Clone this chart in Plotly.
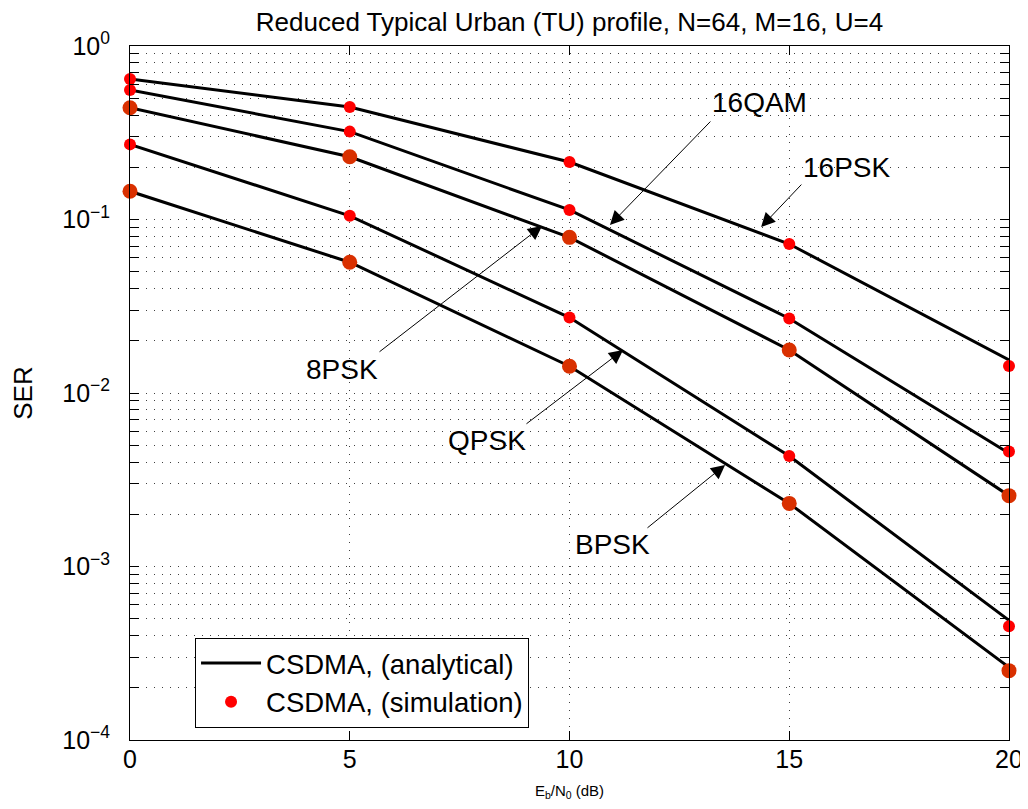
import plotly.graph_objects as go

# ---- data ----
ebn0 = [0, 5, 10, 15, 20]
series_names = ["16PSK", "16QAM", "8PSK", "QPSK", "BPSK"]

ana_16psk = [0.645, 0.445, 0.2145, 0.0722, 0.0155]
ana_16qam = [0.558, 0.321, 0.1135, 0.0269, 0.0045]
ana_8psk = [0.441, 0.230, 0.0789, 0.0177, 0.00256]
ana_qpsk = [0.271, 0.105, 0.0272, 0.00433, 0.00049]
ana_bpsk = [0.1454, 0.0567, 0.01426, 0.00231, 0.000262]

sim_16psk = [0.645, 0.445, 0.2145, 0.0722, 0.0143]
sim_16qam = [0.558, 0.321, 0.1135, 0.0269, 0.0046]
sim_8psk = [0.441, 0.230, 0.0789, 0.0177, 0.00256]
sim_qpsk = [0.271, 0.105, 0.0272, 0.00433, 0.000452]
sim_bpsk = [0.1454, 0.0567, 0.01426, 0.00231, 0.000251]

analytical = [ana_16psk, ana_16qam, ana_8psk, ana_qpsk, ana_bpsk]
simulation = [sim_16psk, sim_16qam, sim_8psk, sim_qpsk, sim_bpsk]
big_marker = [False, False, True, False, True]

x_ticks = [0, 5, 10, 15, 20]
y_ticks = [1, 0.1, 0.01, 0.001, 0.0001]
y_ticktext = ["10<sup>0</sup>", "10<sup>−1</sup>", "10<sup>−2</sup>", "10<sup>−3</sup>", "10<sup>−4</sup>"]
y_minor = [k * 10.0 ** e for e in range(-4, 0) for k in range(2, 10)]

FONT = "Liberation Sans, Arial, Helvetica, sans-serif"
GRID = "rgba(0,0,0,0.75)"
DASH = "1px,7px"

fig = go.Figure()

for i, (name, vals) in enumerate(zip(series_names, analytical)):
    fig.add_trace(go.Scatter(
        x=ebn0, y=vals, mode="lines",
        line=dict(color="black", width=3),
        name="CSDMA, (analytical)", legendgroup="ana",
        showlegend=(i == 0), hoverinfo="skip",
    ))

for i, (name, vals) in enumerate(zip(series_names, simulation)):
    big = big_marker[i]
    fig.add_trace(go.Scatter(
        x=ebn0, y=vals, mode="markers",
        marker=dict(color="#d93000" if big else "#ff0000", size=15 if big else 12,
                    line=dict(width=0)),
        name="CSDMA, (simulation)", legendgroup="sim",
        showlegend=False, cliponaxis=False,
    ))

# legend proxy for simulation (small red dot)
fig.add_trace(go.Scatter(
    x=[None], y=[None], mode="markers",
    marker=dict(color="#ff0000", size=12),
    name="CSDMA, (simulation)", legendgroup="sim", showlegend=True,
))

# ---- annotations (labels + arrows), positions in axis units (log10 for y) ----
labels = [
    # text, text_x, text_log, head_x, head_log, tail_x, tail_log
    ("16QAM", 14.33, -0.3285, 10.92, -1.0317, 13.24, -0.4265),
    ("16PSK", 16.31, -0.703, 14.36, -1.0432, 15.31, -0.7896),
    ("8PSK", 4.82, -1.862, 9.375, -1.0375, 5.643, -1.769),
    ("QPSK", 8.12, -2.271, 11.22, -1.752, 8.987, -2.184),
    ("BPSK", 10.97, -2.876, 13.54, -2.415, 11.74, -2.784),
]
annotations = []
for txt, tx, ty, hx, hy, ax_, ay_ in labels:
    annotations.append(dict(
        x=tx, y=ty, xref="x", yref="y", text=txt, showarrow=False,
        font=dict(size=28, color="black", family=FONT),
        xanchor="center", yanchor="middle",
    ))
    annotations.append(dict(
        x=hx, y=hy, xref="x", yref="y", ax=ax_, ay=ay_, axref="x", ayref="y",
        text=" ", showarrow=True, arrowhead=2, arrowsize=2.8, arrowwidth=1,
        arrowcolor="black", standoff=0, startstandoff=0,
        font=dict(size=1),
    ))

# page body has an 8px margin: the figure is placed at (8, 8) in the window
fig.update_layout(
    width=1016, height=793,
    margin=dict(l=122, r=15, t=38, b=61, autoexpand=False),
    paper_bgcolor="white", plot_bgcolor="white",
    font=dict(family=FONT, color="black", size=25),
    title=dict(text="Reduced Typical Urban (TU) profile, N=64, M=16, U=4",
               x=0.5, xref="paper", y=1 - 14 / 793, yref="container",
               xanchor="center", yanchor="middle",
               font=dict(size=26, family=FONT, color="black")),
    showlegend=True,
    legend=dict(x=0.074, y=0.018, xanchor="left", yanchor="bottom",
                bgcolor="white", bordercolor="black", borderwidth=1,
                font=dict(size=27.5, family=FONT, color="black"),
                itemwidth=60, tracegroupgap=0),
    annotations=annotations,
)

fig.update_xaxes(
    range=[0, 20], tickvals=x_ticks, ticks="inside", ticklen=9, tickwidth=1,
    tickcolor="black", showline=True, linecolor="black", linewidth=1, mirror="allticks",
    showgrid=True, gridcolor=GRID, griddash=DASH, gridwidth=1, zeroline=False,
    tickfont=dict(size=25), ticklabelstandoff=-3, ticklabeloverflow="allow",
    title=dict(text="E<sub>b</sub>/N<sub>0</sub> (dB)", font=dict(size=15), standoff=16),
    automargin=False,
)
fig.update_yaxes(
    type="log", range=[-4, 0], tickvals=y_ticks, ticktext=y_ticktext,
    ticks="inside", ticklen=9, tickwidth=1, tickcolor="black",
    showline=True, linecolor="black", linewidth=1, mirror="allticks",
    showgrid=True, gridcolor=GRID, griddash=DASH, gridwidth=1, zeroline=False,
    tickfont=dict(size=25), ticklabelstandoff=14, ticklabeloverflow="allow",
    minor=dict(tickmode="array", tickvals=y_minor, ticks="inside", ticklen=9,
               tickcolor="black", showgrid=True, gridcolor=GRID, griddash=DASH,
               gridwidth=1),
    title=dict(text="SER", font=dict(size=26), standoff=30),
    automargin=False,
)

fig.write_html("out.html")
